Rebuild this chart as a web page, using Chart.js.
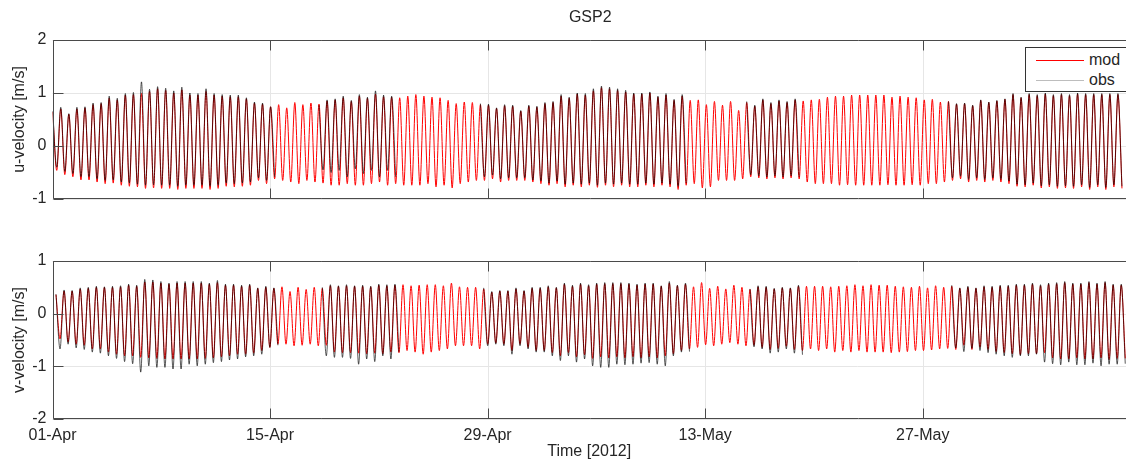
<!DOCTYPE html>
<html>
<head>
<meta charset="utf-8">
<title>GSP2</title>
<script src="https://cdn.jsdelivr.net/npm/chart.js@4/dist/chart.umd.min.js"></script>
<style>
  html, body { margin: 0; padding: 0; background: #fff; }
  body { width: 1126px; height: 461px; position: relative; overflow: hidden;
         font-family: "Liberation Sans", Arial, sans-serif; }
  canvas { position: absolute; left: 0; }
  #top { top: 0; }
  #bot { top: 230px; }
  #legend { position: absolute; left: 1025px; top: 47px; width: 120px; height: 45px;
            border: 1px solid #333; background: #fff; box-sizing: border-box;
            font-size: 16px; color: #262626; }
  #legend .row { position: absolute; left: 10px; height: 18px; line-height: 18px; white-space: nowrap; }
  #legend i { display: inline-block; width: 48px; height: 0; border-top: 1px solid;
              vertical-align: middle; margin-right: 5px; }
</style>
</head>
<body>
<canvas id="top" width="1126" height="230"></canvas>
<canvas id="bot" width="1126" height="231"></canvas>
<div id="legend">
  <div class="row" style="top:3px"><i style="border-color:#ff0000"></i>mod</div>
  <div class="row" style="top:23px"><i style="border-color:#bdbdbd"></i>obs</div>
</div>
<script>
'use strict';

// time axis: days since 01-Apr-2012 00:00
var dayTicks = [0, 14, 28, 42, 56];
var dayLabels = ['01-Apr', '15-Apr', '29-Apr', '13-May', '27-May'];
var xMax = 69.08;

// one flood peak + one ebb trough per tidal cycle
var tideDays = 0.5193;      // spacing of the peaks
var uFirstPeak = 0.013;
var vFirstPeak = 0.225;

var uModHi = [0.64, 0.70, 0.60, 0.70, 0.72, 0.78, 0.80, 0.90, 0.87, 0.96,
  0.97, 0.99, 1.03, 1.08, 1.05, 1.00, 1.06, 0.96, 0.96, 1.03,
  0.96, 0.94, 0.93, 0.93, 0.89, 0.81, 0.79, 0.74, 0.78, 0.72,
  0.82, 0.78, 0.81, 0.79,
  0.85, 0.87, 0.91, 0.84, 0.94, 0.90, 0.98, 0.93, 0.92, 0.91,
  0.94, 0.97, 0.94, 0.92, 0.91, 0.86, 0.80, 0.83, 0.82, 0.78,
  0.77, 0.71, 0.76, 0.75, 0.66, 0.75, 0.73, 0.80, 0.82, 0.94,
  0.90, 0.98, 0.96, 1.04,
  1.10, 1.08, 1.05, 1.02, 0.98, 0.98, 1.00, 0.92, 0.96, 0.86,
  0.94, 0.86, 0.87, 0.78, 0.84, 0.77, 0.84, 0.67, 0.82, 0.75,
  0.87, 0.80, 0.85, 0.82, 0.87, 0.85, 0.87, 0.88, 0.92, 0.94,
  0.94, 0.96, 0.96,
  0.96, 0.96, 0.96, 0.92, 0.94, 0.92, 0.91, 0.87, 0.88, 0.83,
  0.84, 0.79, 0.80, 0.76, 0.86, 0.82, 0.85, 0.88, 0.97, 0.91,
  0.97, 0.95, 0.98, 0.95, 0.97, 0.95, 0.98, 0.97, 0.97, 0.97,
  0.97, 0.97];
var uModLo = [-0.46, -0.54, -0.58, -0.64, -0.64, -0.68, -0.71, -0.70, -0.74, -0.76,
  -0.77, -0.80, -0.79, -0.80, -0.80, -0.82, -0.80, -0.80, -0.80, -0.82,
  -0.80, -0.76, -0.77, -0.76, -0.74, -0.65, -0.71, -0.62, -0.65, -0.68,
  -0.71, -0.65, -0.68, -0.70,
  -0.74, -0.74, -0.71, -0.74, -0.74, -0.71, -0.68, -0.74, -0.71, -0.74,
  -0.74, -0.74, -0.71, -0.77, -0.74, -0.79, -0.71, -0.68, -0.65, -0.65,
  -0.62, -0.68, -0.65, -0.65, -0.65, -0.68, -0.71, -0.74, -0.71, -0.77,
  -0.74, -0.77, -0.74, -0.78,
  -0.74, -0.77, -0.74, -0.77, -0.77, -0.74, -0.77, -0.74, -0.77, -0.82,
  -0.74, -0.71, -0.79, -0.77, -0.65, -0.65, -0.65, -0.62, -0.58, -0.60,
  -0.62, -0.60, -0.62, -0.60, -0.62, -0.68, -0.71, -0.71, -0.71, -0.74,
  -0.73, -0.74, -0.74,
  -0.74, -0.74, -0.73, -0.74, -0.74, -0.73, -0.74, -0.71, -0.71, -0.68,
  -0.65, -0.62, -0.68, -0.65, -0.68, -0.65, -0.68, -0.71, -0.76, -0.77,
  -0.74, -0.79, -0.77, -0.80, -0.79, -0.80, -0.77, -0.82, -0.77, -0.82,
  -0.77, -0.80];
var uObsHi = [0.66, 0.73, 0.61, 0.73, 0.74, 0.81, 0.82, 0.94, 0.90, 0.99,
  1.01, 1.21, 1.07, 1.12, 1.09, 1.04, 1.11, 1.00, 0.99, 1.08,
  0.99, 0.97, 0.96, 0.96, 0.91, 0.83, 0.81, 0.74,
  null, null, null, null, null,
  0.77, 0.87, 0.89, 0.94, 0.86, 0.97, 0.92, 1.04, 0.96, 0.94,
  null, null, null, null, null, null, null, null, null, null,
  0.80, 0.79, 0.72, 0.78, 0.77, 0.67, 0.77, 0.75, 0.82, 0.84,
  0.97, 0.92, 1.00, 0.99, 1.08, 1.13, 1.11, 1.08, 1.05, 1.00,
  1.00, 1.02, 0.94, 0.99, 0.88, 0.97,
  null, null, null, null, null, null, null,
  0.84, 0.77, 0.89, 0.82, 0.87, 0.84, 0.89,
  null, null, null, null, null, null, null, null, null, null,
  null, null, null, null, null, null, null, null,
  0.84, 0.80, 0.81, 0.77, 0.87, 0.83, 0.86, 0.89, 0.99, 0.92,
  0.99, 0.97, 1.00, 0.97, 0.99, 0.97, 1.00, 0.99, 0.99, 0.99,
  0.99, 0.99];
var uObsLo = [-0.40, -0.48, -0.52, -0.58, -0.58, -0.62, -0.65, -0.64, -0.68, -0.70,
  -0.72, -0.74, -0.73, -0.74, -0.74, -0.76, -0.74, -0.74, -0.74, -0.76,
  -0.74, -0.70, -0.71, -0.70, -0.68, -0.60, -0.65, -0.58,
  null, null, null, null, null,
  -0.45, -0.50, -0.46, -0.58, -0.43, -0.52, -0.46, -0.58, -0.46, -0.58,
  null, null, null, null, null, null, null, null, null, null,
  -0.58, -0.55, -0.62, -0.60, -0.60, -0.60, -0.64, -0.66, -0.70, -0.66,
  -0.72, -0.70, -0.72, -0.70, -0.74, -0.70, -0.72, -0.70, -0.72, -0.72,
  -0.70, -0.72, -0.70, -0.72, -0.76, -0.70,
  null, null, null, null, null, null, null,
  -0.54, -0.56, -0.58, -0.56, -0.58, -0.56, -0.58,
  null, null, null, null, null, null, null, null, null, null,
  null, null, null, null, null, null, null, null,
  -0.60, -0.57, -0.63, -0.60, -0.63, -0.60, -0.63, -0.66, -0.72, -0.73,
  -0.70, -0.75, -0.73, -0.76, -0.75, -0.76, -0.73, -0.78, -0.73, -0.78,
  -0.73, -0.76];

var vModHi = [0.36, 0.43, 0.43, 0.47, 0.48, 0.50, 0.50, 0.50, 0.51, 0.54,
  0.52, 0.60, 0.60, 0.58, 0.56, 0.58, 0.58, 0.58, 0.58, 0.56,
  0.59, 0.54, 0.54, 0.52, 0.54, 0.48, 0.50, 0.48,
  0.51, 0.42, 0.50, 0.46, 0.50, 0.48,
  0.53, 0.52, 0.53, 0.52, 0.52, 0.51, 0.54, 0.53, 0.54,
  0.55, 0.53, 0.54, 0.55, 0.55, 0.53, 0.58, 0.51, 0.50, 0.50,
  0.47, 0.41, 0.43, 0.43, 0.47, 0.43, 0.48, 0.48, 0.51, 0.49,
  0.56, 0.52, 0.56, 0.53,
  0.56, 0.57, 0.57, 0.57, 0.56, 0.54, 0.56, 0.56, 0.52, 0.58,
  0.53, 0.56,
  0.51, 0.59, 0.48, 0.52, 0.47, 0.54, 0.50,
  0.46, 0.51, 0.50, 0.47, 0.49, 0.48, 0.52,
  0.52, 0.52, 0.52, 0.51, 0.52, 0.53, 0.55, 0.53,
  0.55, 0.54, 0.54, 0.52, 0.51, 0.50, 0.52, 0.49, 0.53, 0.50,
  0.52, 0.48, 0.50, 0.48, 0.51, 0.50, 0.52, 0.52, 0.54, 0.54,
  0.56, 0.53, 0.56, 0.57, 0.59, 0.56, 0.56, 0.59, 0.56, 0.59,
  0.54, 0.54];
var vModLo = [-0.48, -0.54, -0.58, -0.60, -0.67, -0.67, -0.73, -0.77, -0.80, -0.80,
  -0.83, -0.84, -0.85, -0.86, -0.86, -0.86, -0.86, -0.86, -0.85, -0.84,
  -0.82, -0.80, -0.77, -0.77, -0.75, -0.70, -0.64, -0.58, -0.58, -0.61,
  -0.60, -0.58, -0.61, -0.60,
  -0.73, -0.74, -0.74, -0.75, -0.76, -0.75, -0.76, -0.73, -0.74, -0.70,
  -0.73, -0.77, -0.73, -0.70, -0.67, -0.61, -0.61, -0.61, -0.67, -0.58,
  -0.56, -0.58, -0.70, -0.58, -0.64, -0.70, -0.70, -0.74, -0.80, -0.74,
  -0.82, -0.78, -0.85,
  -0.82, -0.84, -0.82, -0.84, -0.82, -0.84, -0.82, -0.84, -0.80, -0.76,
  -0.70, -0.67, -0.64, -0.59, -0.61, -0.58, -0.55, -0.58, -0.61, -0.60,
  -0.64, -0.68, -0.66, -0.62, -0.68, -0.70, -0.67, -0.70, -0.67, -0.73,
  -0.70, -0.73, -0.70, -0.73,
  -0.73, -0.73, -0.74, -0.73, -0.72, -0.70, -0.70, -0.69, -0.67, -0.66,
  -0.68, -0.60, -0.68, -0.64, -0.68, -0.72, -0.74, -0.76, -0.78, -0.76,
  -0.76, -0.74, -0.84, -0.86, -0.86, -0.84, -0.86, -0.86, -0.84, -0.87,
  -0.85, -0.85];
var vObsHi = [0.37, 0.45, 0.44, 0.49, 0.50, 0.52, 0.51, 0.52, 0.53, 0.56,
  0.54, 0.65, 0.64, 0.61, 0.58, 0.61, 0.61, 0.61, 0.61, 0.58,
  0.63, 0.56, 0.56, 0.54, 0.56, 0.49, 0.52, 0.49,
  null, null, null, null, null,
  0.50, 0.55, 0.53, 0.55, 0.53, 0.54, 0.52, 0.56, 0.55, 0.56,
  null, null, null, null, null, null, null, null, null, null,
  0.49, 0.42, 0.44, 0.44, 0.49, 0.44, 0.50, 0.50, 0.53, 0.50,
  0.58, 0.54, 0.58, 0.55, 0.58, 0.59, 0.59, 0.59, 0.58, 0.56,
  0.58, 0.58, 0.53, 0.61, 0.54, 0.58,
  null, null, null, null, null, null, null,
  0.47, 0.53, 0.52, 0.48, 0.50, 0.49, 0.54,
  null, null, null, null, null, null, null, null, null, null,
  null, null, null, null, null, null, null, null,
  0.54, 0.49, 0.52, 0.49, 0.53, 0.52, 0.54, 0.54, 0.56, 0.56,
  0.58, 0.55, 0.58, 0.59, 0.61, 0.58, 0.58, 0.61, 0.58, 0.61,
  0.56, 0.56];
var vObsLo = [-0.67, -0.58, -0.65, -0.68, -0.73, -0.75, -0.80, -0.85, -0.91, -0.95,
  -1.11, -0.99, -1.02, -1.02, -1.05, -1.05, -0.96, -0.99, -0.96, -0.93,
  -0.91, -0.88, -0.86, -0.82, -0.80, -0.77, -0.64, -0.60,
  null, null, null, null, null,
  -0.80, -0.83, -0.83, -0.85, -0.96, -0.86, -0.91, -0.80, -0.86, -0.73,
  null, null, null, null, null, null, null, null, null, null,
  -0.61, -0.58, -0.61, -0.77, -0.61, -0.67, -0.73, -0.73, -0.80, -0.89,
  -0.80, -0.92, -0.86, -0.99, -1.02, -1.02, -0.96, -0.97, -0.96, -0.94,
  -0.93, -0.96, -0.99, -0.80, -0.73, -0.72,
  null, null, null, null, null, null, null,
  -0.63, -0.67, -0.75, -0.73, -0.67, -0.75, -0.78,
  null, null, null, null, null, null, null, null, null, null,
  null, null, null, null, null, null, null, null,
  -0.65, -0.72, -0.66, -0.70, -0.74, -0.77, -0.80, -0.83, -0.80, -0.80,
  -0.77, -0.92, -0.95, -0.97, -0.92, -0.97, -0.97, -0.94, -0.99, -0.96,
  -0.96, -0.95];

var FONT = '"Liberation Sans", Arial, Helvetica, sans-serif';
var INK = '#262626';

// peak, trough, peak, ... ; null leaves a hole in the line
function tideSeries(first, hi, lo) {
  var pts = [];
  for (var i = 0; i < hi.length; i++) {
    pts.push({ x: first + i * tideDays, y: hi[i] });
    pts.push({ x: first + (i + 0.5) * tideDays, y: lo[i] });
  }
  return pts;
}

// box round the axes with inward ticks, like a matlab subplot
var frame = {
  id: 'frame',
  beforeDatasetsDraw: function(chart) {
    var a = chart.chartArea, ctx = chart.ctx;
    var xs = chart.scales.x, ys = chart.scales.y;
    ctx.save();
    ctx.strokeStyle = '#e6e6e6';
    ctx.lineWidth = 1;
    ctx.beginPath();
    dayTicks.forEach(function(d) {
      var px = Math.round(xs.getPixelForValue(d)) + 0.5;
      ctx.moveTo(px, a.top); ctx.lineTo(px, a.bottom);
    });
    ys.ticks.forEach(function(t) {
      var py = Math.round(ys.getPixelForValue(t.value)) + 0.5;
      ctx.moveTo(a.left, py); ctx.lineTo(a.right, py);
    });
    ctx.stroke();
    ctx.restore();
  },
  afterDatasetsDraw: function(chart, args, opts) {
    var a = chart.chartArea, ctx = chart.ctx;
    var xs = chart.scales.x, ys = chart.scales.y;
    var L = Math.round(a.left) + 0.5, T = Math.round(a.top) + 0.5, B = Math.round(a.bottom) - 0.5;
    ctx.save();
    ctx.strokeStyle = '#4a4a4a';
    ctx.lineWidth = 1;
    ctx.beginPath();
    ctx.moveTo(a.right + 2, T); ctx.lineTo(L, T); ctx.lineTo(L, B); ctx.lineTo(a.right + 2, B);
    dayTicks.forEach(function(d) {
      var px = Math.round(xs.getPixelForValue(d)) + 0.5;
      ctx.moveTo(px, B); ctx.lineTo(px, B - 10);
      ctx.moveTo(px, T); ctx.lineTo(px, T + 10);
    });
    ys.ticks.forEach(function(t) {
      var py = Math.round(ys.getPixelForValue(t.value)) + 0.5;
      ctx.moveTo(L, py); ctx.lineTo(L + 10, py);
    });
    ctx.stroke();
    if (opts.title) {
      ctx.fillStyle = INK;
      ctx.font = '16px ' + FONT;
      ctx.textAlign = 'center';
      ctx.textBaseline = 'middle';
      ctx.fillText(opts.title, (a.left + a.right) / 2 + 1, 18);
    }
    ctx.restore();
  }
};

function panel(id, yLabel, yMin, yMax, uv, showX, title) {
  return new Chart(document.getElementById(id), {
    type: 'line',
    data: {
      datasets: [{
        label: 'obs',
        data: tideSeries(uv.first, uv.obsHi, uv.obsLo),
        borderColor: 'rgba(0, 0, 0, 0.65)',
        borderWidth: 1,
        order: 0
      }, {
        label: 'mod',
        data: tideSeries(uv.first, uv.modHi, uv.modLo),
        borderColor: '#ff0000',
        borderWidth: 1,
        order: 1
      }]
    },
    options: {
      responsive: false,
      animation: false,
      spanGaps: false,
      parsing: false,
      elements: {
        point: { radius: 0, hoverRadius: 0 },
        line: { cubicInterpolationMode: 'monotone' }
      },
      layout: { padding: { top: showX ? 31 : 40, bottom: showX ? 0 : 31, left: 0, right: 0 } },
      plugins: {
        legend: { display: false },
        tooltip: { enabled: false },
        frame: { title: title }
      },
      scales: {
        x: {
          type: 'linear',
          min: 0,
          max: xMax,
          afterBuildTicks: function(s) {
            s.ticks = dayTicks.map(function(d) { return { value: d }; });
          },
          afterFit: function(s) { s.height = showX ? 42 : 0; },
          grid: { display: false, drawTicks: false },
          border: { display: false },
          ticks: {
            display: showX,
            padding: 7,
            maxRotation: 0,
            autoSkip: false,
            color: INK,
            font: { family: FONT, size: 16 },
            callback: function(v) {
              var k = dayTicks.indexOf(v);
              return k < 0 ? '' : dayLabels[k];
            }
          },
          title: {
            display: showX,
            text: 'Time [2012]',
            color: INK,
            font: { family: FONT, size: 16 },
            padding: { top: 0, bottom: 0 }
          }
        },
        y: {
          min: yMin,
          max: yMax,
          afterFit: function(s) { s.width = 52.5; },
          grid: { display: false, drawTicks: false },
          border: { display: false },
          ticks: {
            stepSize: 1,
            padding: 6,
            color: INK,
            font: { family: FONT, size: 16 }
          },
          title: {
            display: true,
            text: yLabel,
            color: INK,
            font: { family: FONT, size: 16 },
            padding: { top: 10, bottom: 0 }
          }
        }
      }
    },
    plugins: [frame]
  });
}

panel('top', 'u-velocity [m/s]', -1, 2,
  { first: uFirstPeak, modHi: uModHi, modLo: uModLo, obsHi: uObsHi, obsLo: uObsLo },
  false, 'GSP2');
panel('bot', 'v-velocity [m/s]', -2, 1,
  { first: vFirstPeak, modHi: vModHi, modLo: vModLo, obsHi: vObsHi, obsLo: vObsLo },
  true, null);
</script>
</body>
</html>
